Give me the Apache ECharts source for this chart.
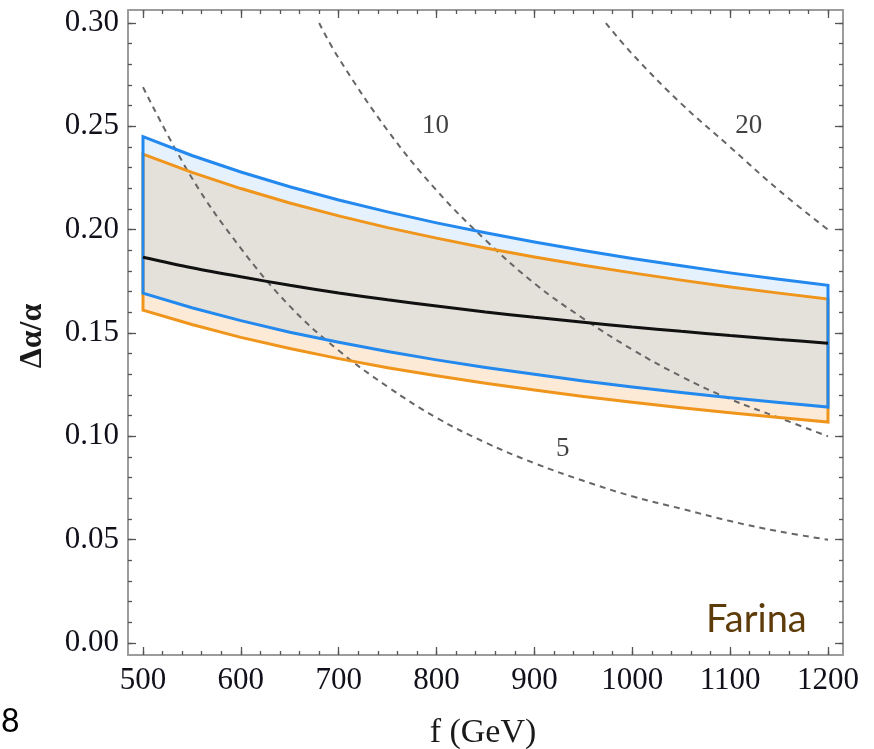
<!DOCTYPE html>
<html>
<head>
<meta charset="utf-8">
<script src="https://cdn.jsdelivr.net/npm/echarts@6/dist/echarts.min.js"></script>
<style>html,body{margin:0;padding:0;background:#fff;}#c{width:874px;height:749px;}</style>
</head>
<body>
<div id="c"></div>
<script>
// ---- data ----
const fGrid = [500,550,600,650,700,750,800,850,900,950,1000,1050,1100,1150,1200];
const blueUpper   = [0.245,0.2359,0.2279,0.2208,0.2144,0.2086,0.2033,0.1985,0.1940,0.1899,0.1861,0.1825,0.1791,0.1760,0.1731];
const orangeUpper = [0.2366,0.2277,0.2199,0.2129,0.2067,0.2010,0.1959,0.1911,0.1868,0.1828,0.1791,0.1756,0.1723,0.1693,0.1664];
const centralLine = [0.1867,0.1816,0.1772,0.1731,0.1694,0.1661,0.1631,0.1602,0.1576,0.1552,0.1529,0.1508,0.1488,0.1469,0.1451];
const blueLower   = [0.1693,0.1622,0.1560,0.1504,0.1455,0.1411,0.1370,0.1333,0.1300,0.1268,0.1239,0.1212,0.1187,0.1164,0.1142];
const orangeLower = [0.1611,0.1541,0.1479,0.1425,0.1376,0.1332,0.1293,0.1257,0.1224,0.1193,0.1165,0.1138,0.1114,0.1091,0.1069];

const contour5F  = [500,550,600,650,700,750,800,850,900,950,1000,1050,1100,1150,1200];
const contour5   = [0.269,0.225,0.191,0.163,0.1415,0.124,0.109,0.097,0.087,0.0785,0.071,0.065,0.059,0.054,0.050];
const contour10F = [680,700,750,800,850,900,950,1000,1050,1100,1150,1200];
const contour10  = [0.300,0.283,0.248,0.219,0.195,0.174,0.157,0.142,0.129,0.118,0.109,0.100];
const contour20F = [973,1000,1050,1100,1150,1200];
const contour20  = [0.300,0.285,0.261,0.240,0.219,0.200];

const contourLabelText = ['5','10','20'];
const contourLabelF = [929,799,1119];
const contourLabelV = [0.094,0.250,0.250];

const xMajor = [500,600,700,800,900,1000,1100,1200];
const xMinor = [500,520,540,560,580,600,620,640,660,680,700,720,740,760,780,800,820,840,860,880,900,920,940,960,980,1000,1020,1040,1060,1080,1100,1120,1140,1160,1180,1200];
const yMajor = [0.00,0.05,0.10,0.15,0.20,0.25,0.30];
const yMinor = [0.00,0.01,0.02,0.03,0.04,0.05,0.06,0.07,0.08,0.09,0.10,0.11,0.12,0.13,0.14,0.15,0.16,0.17,0.18,0.19,0.20,0.21,0.22,0.23,0.24,0.25,0.26,0.27,0.28,0.29,0.30];

const X_MIN = 484.67, X_MAX = 1215.33, Y_MIN = -0.0058, Y_MAX = 0.3063;

// ---- helpers ----
const zip = (xs, ys) => xs.map((x, i) => [x, ys[i]]);
const SERIF = 'Liberation Serif';
const FRAME = '#9c9c9c', TICK = '#555';
const LABEL_COLOR = '#10101a';

function bandPts(api, upper, lower) {
  const pts = [];
  for (let i = 0; i < fGrid.length; i++) pts.push(api.coord([fGrid[i], upper[i]]));
  for (let i = fGrid.length - 1; i >= 0; i--) pts.push(api.coord([fGrid[i], lower[i]]));
  return pts;
}

function xAxisDef(pos, ticks, len, labels, showLine) {
  return {
    type: 'value', position: pos, min: X_MIN, max: X_MAX,
    axisLine: { show: showLine, onZero: false, lineStyle: { color: FRAME, width: 2 } },
    axisTick: { show: true, inside: true, length: len, customValues: ticks, lineStyle: { color: TICK, width: 1.3 } },
    axisLabel: labels ? { show: true, customValues: xMajor, fontSize: 31, fontFamily: SERIF, color: LABEL_COLOR, margin: 10,
                          formatter: v => String(Math.round(v)) } : { show: false },
    splitLine: { show: false }
  };
}
function yAxisDef(pos, ticks, len, labels, showLine) {
  return {
    type: 'value', position: pos, min: Y_MIN, max: Y_MAX,
    axisLine: { show: showLine, onZero: false, lineStyle: { color: FRAME, width: 2 } },
    axisTick: { show: true, inside: true, length: len, customValues: ticks, lineStyle: { color: TICK, width: 1.3 } },
    axisLabel: labels ? { show: true, customValues: yMajor, fontSize: 31, fontFamily: SERIF, color: LABEL_COLOR, margin: 9,
                          formatter: v => v.toFixed(2) } : { show: false },
    splitLine: { show: false }
  };
}

const chart = echarts.init(document.getElementById('c'), null, { renderer: 'canvas' });
chart.setOption({
  animation: false,
  backgroundColor: '#fff',
  textStyle: { fontFamily: SERIF },
  grid: { left: 128, top: 10, width: 715, height: 645, containLabel: false },
  xAxis: [
    xAxisDef('bottom', xMajor, 8, true, true),
    xAxisDef('bottom', xMinor, 4, false, false),
    xAxisDef('top', xMajor, 8, false, true),
    xAxisDef('top', xMinor, 4, false, false)
  ],
  yAxis: [
    yAxisDef('left', yMajor, 8, true, true),
    yAxisDef('left', yMinor, 4, false, false),
    yAxisDef('right', yMajor, 8, false, true),
    yAxisDef('right', yMinor, 4, false, false)
  ],
  series: [
    { // band fills
      type: 'custom', z: 1, silent: true, clip: true,
      data: [[fGrid[0], centralLine[0]]],
      renderItem: (params, api) => ({
        type: 'group',
        children: [
          { type: 'polygon', shape: { points: bandPts(api, blueLower, orangeLower) }, style: { fill: '#fdead6', stroke: null } },
          { type: 'polygon', shape: { points: bandPts(api, orangeUpper, blueLower) }, style: { fill: '#e4e0da', stroke: null } },
          { type: 'polygon', shape: { points: bandPts(api, blueUpper, orangeUpper) }, style: { fill: '#e5f1fc', stroke: null } }
        ]
      })
    },
    { type: 'line', z: 2, data: zip(contour5F, contour5), smooth: 0.4, showSymbol: false, silent: true,
      lineStyle: { color: '#666', width: 2, type: [6, 5] } },
    { type: 'line', z: 2, data: zip(contour10F, contour10), smooth: 0.4, showSymbol: false, silent: true,
      lineStyle: { color: '#666', width: 2, type: [6, 5] } },
    { type: 'line', z: 2, data: zip(contour20F, contour20), smooth: 0.4, showSymbol: false, silent: true,
      lineStyle: { color: '#666', width: 2, type: [6, 5] } },
    { // band outlines
      type: 'custom', z: 3, silent: true, clip: true,
      data: [[fGrid[0], centralLine[0]]],
      renderItem: (params, api) => ({
        type: 'group',
        children: [
          { type: 'polygon', shape: { points: bandPts(api, orangeUpper, orangeLower) }, style: { fill: null, stroke: '#f0951c', lineWidth: 3, lineJoin: 'miter' } },
          { type: 'polygon', shape: { points: bandPts(api, blueUpper, blueLower) }, style: { fill: null, stroke: '#2389ee', lineWidth: 3, lineJoin: 'miter' } }
        ]
      })
    },
    { type: 'line', z: 4, data: zip(fGrid, centralLine), smooth: 0.3, showSymbol: false, silent: true,
      lineStyle: { color: '#111', width: 3 } },
    { type: 'scatter', z: 5, symbolSize: 1, silent: true,
      itemStyle: { color: 'rgba(0,0,0,0)' },
      data: contourLabelText.map((t, i) => [contourLabelF[i], contourLabelV[i], t]),
      label: { show: true, position: 'inside', formatter: p => p.data[2], fontSize: 27, fontFamily: SERIF, color: '#111' } }
  ],
  graphic: [
    { type: 'text', x: 33, y: 336, rotation: Math.PI / 2,
      style: { text: 'Δα/α', font: 'bold 32px "Liberation Serif"', fill: '#1a1a1a', textAlign: 'center', textVerticalAlign: 'middle' } },
    { type: 'text', x: 483, y: 733,
      style: { text: 'f (GeV)', font: '34px "Liberation Serif"', fill: '#1a1a1a', textAlign: 'center', textVerticalAlign: 'middle' } },
    { type: 'text', x: 706, y: 620,
      style: { text: 'Farina', font: '38px Lato, "Noto Sans", sans-serif', fill: '#5e3c0a', textAlign: 'left', textVerticalAlign: 'middle' } },
    { type: 'text', x: 1, y: 722,
      style: { text: '8', font: '32px Lato, "Noto Sans", sans-serif', fill: '#000', textAlign: 'left', textVerticalAlign: 'middle' } }
  ]
});
</script>
</body>
</html>
